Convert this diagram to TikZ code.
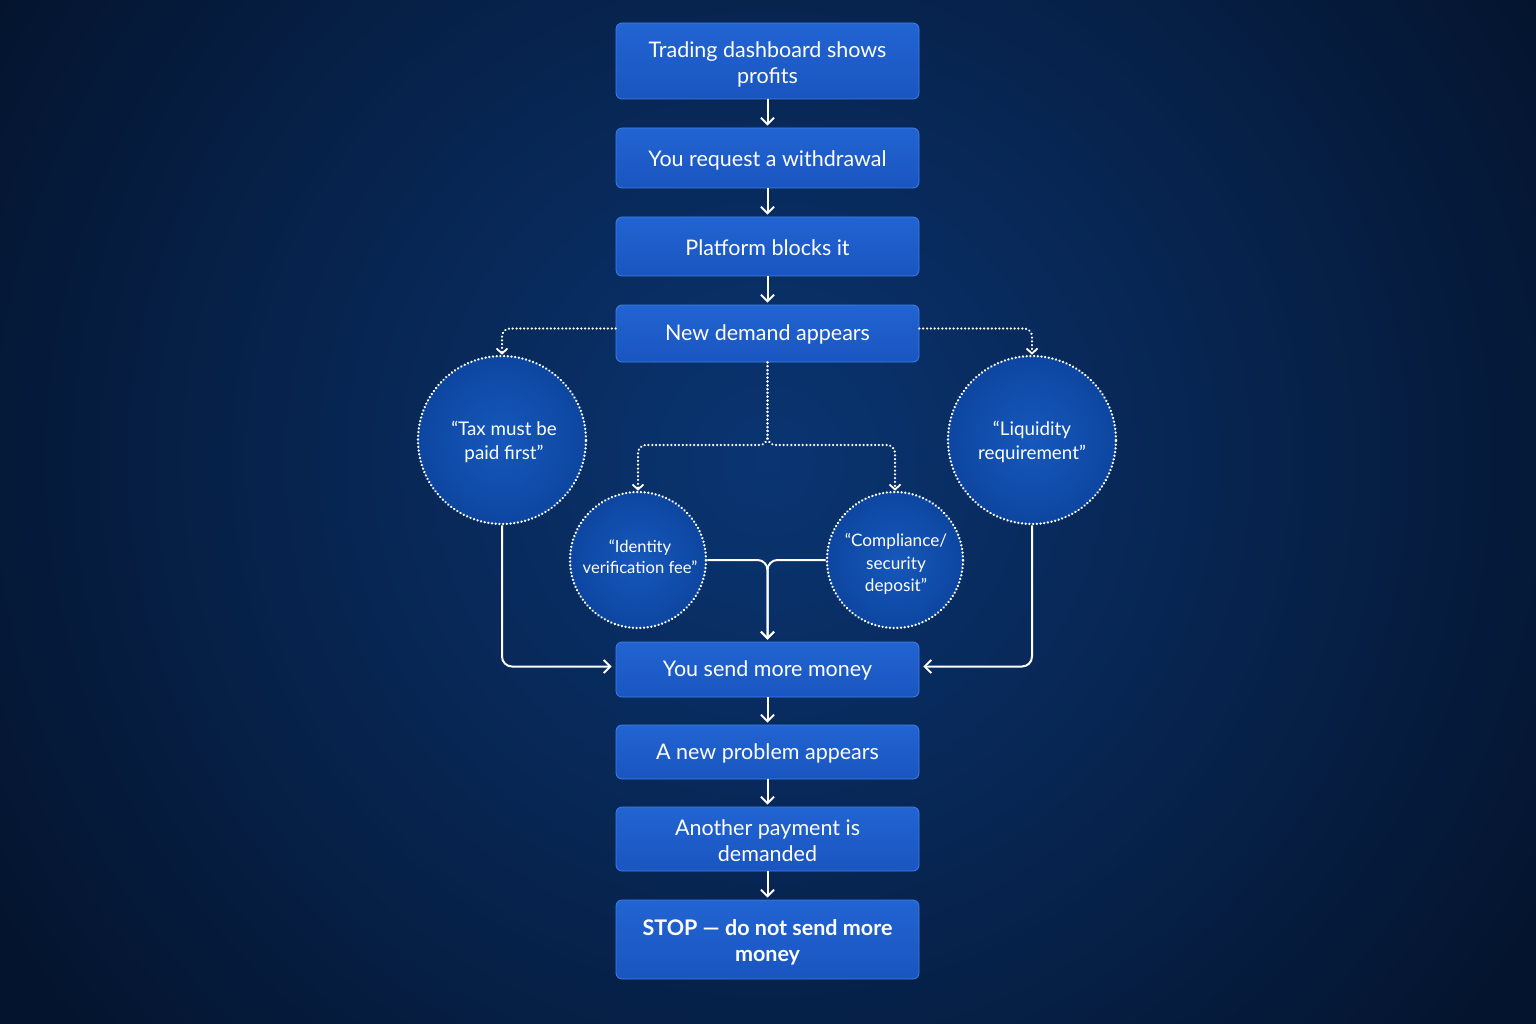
\documentclass[tikz,border=0pt]{standalone}
\usepackage{fontspec}
\setmainfont{Lato}
\usetikzlibrary{arrows.meta,calc}
\definecolor{bginner}{HTML}{0A3572}
\definecolor{bgouter}{HTML}{04142E}
\definecolor{boxtop}{HTML}{2164D2}
\definecolor{boxbot}{HTML}{1A55C0}
\definecolor{boxborder}{HTML}{3F80E8}
\definecolor{circin}{HTML}{1658BC}
\definecolor{circout}{HTML}{0D46A0}
\begin{document}
\begin{tikzpicture}[x=1pt,y=-1pt,
  stepbox/.style={rectangle, rounded corners=6pt, draw=boxborder, line width=0.8pt,
    top color=boxtop, bottom color=boxbot, minimum width=303pt, inner sep=0pt},
  boxtext/.style={text=white, font=\fontsize{21.5}{26}\selectfont, align=center, inner sep=0pt},
  bubble/.style={circle, draw=white, line width=2.6pt, line cap=round,
    dash pattern=on 0.01pt off 3.7pt, inner color=circin, outer color=circout,
    inner sep=0pt},
  bubtext/.style={text=white, align=center, inner sep=0pt},
  arr/.style={draw=white, line width=2pt,
    -{Straight Barb[length=6.5pt,width=13pt,line width=2pt]}},
  dotarr/.style={draw=white, line width=2.5pt, line cap=round,
    dash pattern=on 0.01pt off 3.8pt,
    -{Straight Barb[length=5pt,width=11pt,line width=1.8pt,line cap=butt]}},
]
\useasboundingbox (0,0) rectangle (1536,1024);
\begin{scope}
\clip (0,0) rectangle (1536,1024);
\fill[bgouter] (0,0) rectangle (1536,1024);
\shade[inner color=bginner, outer color=bgouter] (768,460) circle (900pt);
\end{scope}

% boxes
\node[stepbox, minimum height=76pt] (b1) at (767.5,61) {};
\node[stepbox, minimum height=60pt] (b2) at (767.5,158) {};
\node[stepbox, minimum height=59pt] (b3) at (767.5,246.5) {};
\node[stepbox, minimum height=57pt] (b4) at (767.5,333.5) {};
\node[stepbox, minimum height=55pt] (b5) at (767.5,669.5) {};
\node[stepbox, minimum height=54pt] (b6) at (767.5,752) {};
\node[stepbox, minimum height=64pt] (b7) at (767.5,839) {};
\node[stepbox, minimum height=79pt] (b8) at (767.5,939.5) {};

\node[boxtext] (t1) at ($(b1.center)+(0,3)$) {Trading dashboard shows\\profits};
\node[boxtext] (t2) at ($(b2.center)+(0,2)$) {You request a withdrawal};
\node[boxtext] (t3) at ($(b3.center)+(0,1)$) {Platform blocks it};
\node[boxtext] (t4) at ($(b4.center)+(0,1)$) {New demand appears};
\node[boxtext] (t5) at ($(b5.center)+(0,1)$) {You send more money};
\node[boxtext] (t6) at ($(b6.center)+(0,1)$) {A new problem appears};
\node[boxtext] (t7) at ($(b7.center)+(0,2)$) {Another payment is\\demanded};
\node[boxtext, font=\fontsize{21.5}{26}\selectfont\bfseries] (t8) at ($(b8.center)+(0,3)$) {STOP — do not send more\\money};

% circles
\node[bubble, minimum size=168pt] (tax) at (502,440) {};
\node[bubble, minimum size=168pt] (liq) at (1032,440) {};
\node[bubble, minimum size=136pt] (id) at (638,560) {};
\node[bubble, minimum size=136pt] (comp) at (895,560) {};
\node[bubtext, font=\fontsize{18.8}{24}\selectfont] (taxt) at ($(tax.center)+(2,2)$) {“Tax must be\\paid first”};
\node[bubtext, font=\fontsize{18.8}{24}\selectfont] (liqt) at ($(liq.center)+(0,2)$) {“Liquidity\\requirement”};
\node[bubtext, font=\fontsize{16.6}{21}\selectfont] (idt) at ($(id.center)+(2,-3)$) {“Identity\\verification fee”};
\node[bubtext, font=\fontsize{17.2}{22.5}\selectfont] (compt) at ($(comp.center)+(1,4)$) {“Compliance/\\security\\deposit”};

% straight flow arrows
\foreach \a/\b in {b1/b2,b2/b3,b3/b4,b5/b6,b6/b7,b7/b8}
  \draw[arr, shorten >=2pt] (\a.south) -- (\b.north);

% dotted branches
\coordinate (split) at (767.5,445);
\draw[dotarr, rounded corners=8pt] ($(b4.west)+(0,-5)$) -| (tax.north);
\draw[dotarr, rounded corners=8pt] ($(b4.east)+(0,-5)$) -| (liq.north);
\draw[dotarr, rounded corners=8pt] (b4.south) -- (split) -| (id.north);
\draw[dotarr, rounded corners=8pt] (b4.south) -- (split) -| (comp.north);

% solid returns
\draw[arr, rounded corners=10pt, shorten >=2pt] (id.east) -| (b5.north);
\draw[arr, rounded corners=10pt, shorten >=2pt] (comp.west) -| (b5.north);
\draw[arr, rounded corners=10pt, shorten >=4pt] (tax.south) |- ($(b5.west)+(0,-3)$);
\draw[arr, rounded corners=10pt, shorten >=4pt] (liq.south) |- ($(b5.east)+(0,-3)$);
\end{tikzpicture}
\end{document}
